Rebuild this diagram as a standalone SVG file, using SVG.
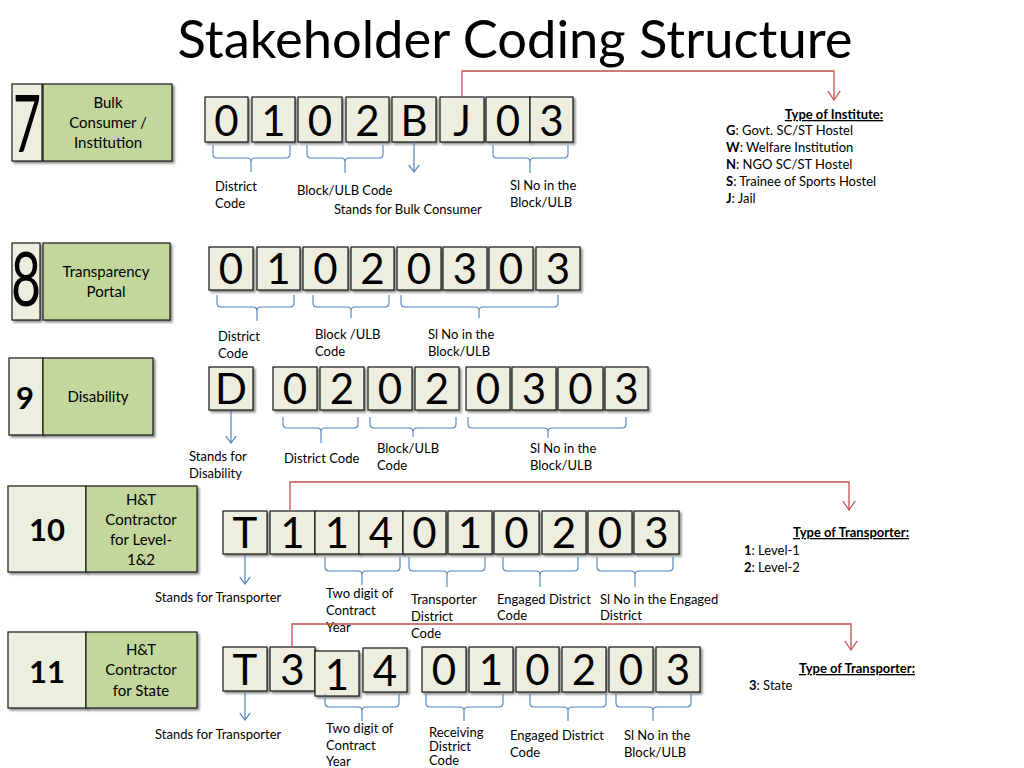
<svg xmlns="http://www.w3.org/2000/svg" width="1024" height="768" viewBox="0 0 1024 768">
<defs>
<filter id="sh" x="-20%" y="-20%" width="140%" height="140%"><feDropShadow dx="2" dy="2" stdDeviation="1.2" flood-color="#000" flood-opacity="0.45"/></filter>
<marker id="ab" viewBox="0 0 8 12" refX="7.5" refY="6" markerWidth="8" markerHeight="12" markerUnits="userSpaceOnUse" orient="auto"><path d="M0,0.5 L7.5,6 L0,11.5" fill="none" stroke="#4f81bd" stroke-width="1.2"/></marker>
<marker id="ar" viewBox="0 0 10 14" refX="9.5" refY="7" markerWidth="10" markerHeight="14" markerUnits="userSpaceOnUse" orient="auto"><path d="M0,0.5 L9.5,7 L0,13.5" fill="none" stroke="#c0504d" stroke-width="1.2"/></marker>
</defs>
<style>
text{font-family:Lato,"Open Sans","Liberation Sans",sans-serif;fill:#000}
.title{font-size:52.5px}
.num{fill:#ebf0de;stroke:#1a1a1a;stroke-width:1.2;filter:url(#sh)}
.lab{fill:#c3d69b;stroke:#1a1a1a;stroke-width:1.2;filter:url(#sh)}
.dig{fill:#eeeee0;stroke:#1a1a1a;stroke-width:1.2;filter:url(#sh)}
.d{font-size:42px;text-anchor:middle}
.lt{font-size:15px;text-anchor:middle}
.big{text-anchor:middle}
.bn{font-size:31px;font-weight:bold;text-anchor:middle}
.s{font-size:13px}
.hd{font-size:13px;font-weight:bold;text-decoration:underline;text-anchor:middle}
.br{fill:none;stroke:#4f81bd;stroke-width:1.1}
.ba{fill:none;stroke:#4f81bd;stroke-width:1.2;marker-end:url(#ab)}
.ra{fill:none;stroke:#c0504d;stroke-width:1.3;marker-end:url(#ar)}
</style>
<rect width="1024" height="768" fill="#fff"/>
<text class="title" x="515" y="58" text-anchor="middle">Stakeholder Coding Structure</text>

<g id="row7">
<rect class="num" x="12" y="84" width="30" height="77"/>
<rect class="lab" x="43" y="84" width="129" height="77"/>
<text class="big" x="27" y="152" font-size="80" textLength="28" lengthAdjust="spacingAndGlyphs">7</text>
<text class="lt" x="108" y="108">Bulk</text>
<text class="lt" x="108" y="128">Consumer /</text>
<text class="lt" x="108" y="148">Institution</text>
<rect class="dig" x="205" y="97" width="43" height="45"/>
<rect class="dig" x="252" y="97" width="43" height="45"/>
<rect class="dig" x="298" y="97" width="44" height="45"/>
<rect class="dig" x="346" y="97" width="43" height="45"/>
<rect class="dig" x="392" y="97" width="44" height="45"/>
<rect class="dig" x="440" y="97" width="44" height="45"/>
<rect class="dig" x="486" y="97" width="44" height="45"/>
<rect class="dig" x="530" y="97" width="43" height="45"/>
<text class="d" x="226.5" y="136">0</text>
<text class="d" x="273.5" y="136">1</text>
<text class="d" x="320" y="136">0</text>
<text class="d" x="367.5" y="136">2</text>
<text class="d" x="414" y="136">B</text>
<text class="d" x="462" y="136">J</text>
<text class="d" x="508" y="136">0</text>
<text class="d" x="551.5" y="136">3</text>
<text class="s" x="215" y="191">District</text>
<text class="s" x="215" y="208">Code</text>
<text class="s" x="297" y="195">Block/ULB Code</text>
<text class="s" x="334" y="214">Stands for Bulk Consumer</text>
<text class="s" x="510" y="190">Sl No in the</text>
<text class="s" x="510" y="207">Block/ULB</text>
</g>

<g id="institute-legend">
<text class="hd" x="834" y="119">Type of Institute:</text>
<text class="s" x="726" y="135"><tspan font-weight="bold">G</tspan>: Govt. SC/ST Hostel</text>
<text class="s" x="726" y="152"><tspan font-weight="bold">W</tspan>: Welfare Institution</text>
<text class="s" x="726" y="169"><tspan font-weight="bold">N</tspan>: NGO SC/ST Hostel</text>
<text class="s" x="726" y="186"><tspan font-weight="bold">S</tspan>: Trainee of Sports Hostel</text>
<text class="s" x="726" y="203"><tspan font-weight="bold">J</tspan>: Jail</text>
</g>

<g id="row8">
<rect class="num" x="12" y="243" width="28" height="77"/>
<rect class="lab" x="43" y="243" width="127" height="77"/>
<text class="big" x="26" y="306" font-size="76" textLength="30" lengthAdjust="spacingAndGlyphs">8</text>
<text class="lt" x="106" y="277">Transparency</text>
<text class="lt" x="106" y="297">Portal</text>
<rect class="dig" x="209" y="247" width="44" height="43"/>
<rect class="dig" x="257" y="247" width="43" height="43"/>
<rect class="dig" x="303" y="247" width="45" height="43"/>
<rect class="dig" x="351" y="247" width="43" height="43"/>
<rect class="dig" x="397" y="247" width="44" height="43"/>
<rect class="dig" x="443" y="247" width="44" height="43"/>
<rect class="dig" x="489" y="247" width="44" height="43"/>
<rect class="dig" x="536" y="247" width="44" height="43"/>
<text class="d" x="231" y="284">0</text>
<text class="d" x="278.5" y="284">1</text>
<text class="d" x="325.5" y="284">0</text>
<text class="d" x="372.5" y="284">2</text>
<text class="d" x="419" y="284">0</text>
<text class="d" x="465" y="284">3</text>
<text class="d" x="511" y="284">0</text>
<text class="d" x="558" y="284">3</text>
<text class="s" x="218" y="341">District</text>
<text class="s" x="218" y="358">Code</text>
<text class="s" x="315" y="339">Block /ULB</text>
<text class="s" x="315" y="356">Code</text>
<text class="s" x="428" y="339">Sl No in the</text>
<text class="s" x="428" y="356">Block/ULB</text>
</g>

<g id="row9">
<rect class="num" x="9" y="358" width="34" height="77"/>
<rect class="lab" x="43" y="358" width="110" height="77"/>
<text class="bn" x="25" y="409">9</text>
<text class="lt" x="98" y="402">Disability</text>
<rect class="dig" x="209" y="367" width="44" height="43"/>
<rect class="dig" x="273" y="367" width="44" height="43"/>
<rect class="dig" x="320" y="367" width="44" height="43"/>
<rect class="dig" x="368" y="367" width="44" height="43"/>
<rect class="dig" x="415" y="367" width="44" height="43"/>
<rect class="dig" x="466" y="367" width="44" height="43"/>
<rect class="dig" x="512" y="367" width="44" height="43"/>
<rect class="dig" x="558" y="367" width="45" height="43"/>
<rect class="dig" x="605" y="367" width="43" height="43"/>
<text class="d" x="231" y="404">D</text>
<text class="d" x="295" y="404">0</text>
<text class="d" x="342" y="404">2</text>
<text class="d" x="390" y="404">0</text>
<text class="d" x="437" y="404">2</text>
<text class="d" x="488" y="404">0</text>
<text class="d" x="534" y="404">3</text>
<text class="d" x="580.5" y="404">0</text>
<text class="d" x="626.5" y="404">3</text>
<text class="s" x="189" y="461">Stands for</text>
<text class="s" x="189" y="478">Disability</text>
<text class="s" x="284" y="463">District  Code</text>
<text class="s" x="377" y="453">Block/ULB</text>
<text class="s" x="377" y="470">Code</text>
<text class="s" x="530" y="453">Sl No in the</text>
<text class="s" x="530" y="470">Block/ULB</text>
</g>

<g id="row10">
<rect class="num" x="8" y="486" width="78" height="86"/>
<rect class="lab" x="86" y="486" width="111" height="86"/>
<text class="bn" x="47" y="541">10</text>
<text class="lt" x="141" y="505">H&amp;T</text>
<text class="lt" x="141" y="525">Contractor</text>
<text class="lt" x="141" y="545">for Level-</text>
<text class="lt" x="141" y="565">1&amp;2</text>
<rect class="dig" x="223" y="511" width="44" height="43"/>
<rect class="dig" x="270" y="511" width="45" height="43"/>
<rect class="dig" x="315" y="511" width="44" height="43"/>
<rect class="dig" x="359" y="511" width="44" height="43"/>
<rect class="dig" x="403" y="511" width="43" height="43"/>
<rect class="dig" x="448" y="511" width="44" height="43"/>
<rect class="dig" x="494" y="511" width="45" height="43"/>
<rect class="dig" x="542" y="511" width="44" height="43"/>
<rect class="dig" x="588" y="511" width="44" height="43"/>
<rect class="dig" x="634" y="511" width="45" height="43"/>
<text class="d" x="245" y="548">T</text>
<text class="d" x="292.5" y="548">1</text>
<text class="d" x="337" y="548">1</text>
<text class="d" x="381" y="548">4</text>
<text class="d" x="424.5" y="548">0</text>
<text class="d" x="470" y="548">1</text>
<text class="d" x="516.5" y="548">0</text>
<text class="d" x="564" y="548">2</text>
<text class="d" x="610" y="548">0</text>
<text class="d" x="656.5" y="548">3</text>
<text class="s" x="155" y="602">Stands for Transporter</text>
<text class="s" x="326" y="598">Two digit of</text>
<text class="s" x="326" y="615">Contract</text>
<text class="s" x="326" y="632">Year</text>
<text class="s" x="411" y="604">Transporter</text>
<text class="s" x="411" y="621">District</text>
<text class="s" x="411" y="638">Code</text>
<text class="s" x="497" y="604">Engaged District</text>
<text class="s" x="497" y="620">Code</text>
<text class="s" x="600" y="604">Sl No in the Engaged</text>
<text class="s" x="600" y="620">District</text>
</g>

<g id="transporter-legend-1">
<text class="hd" x="851" y="537">Type of Transporter:</text>
<text class="s" x="744" y="555"><tspan font-weight="bold">1</tspan>: Level-1</text>
<text class="s" x="744" y="572"><tspan font-weight="bold">2</tspan>: Level-2</text>
</g>

<g id="row11">
<rect class="num" x="8" y="632" width="78" height="76"/>
<rect class="lab" x="86" y="632" width="111" height="76"/>
<text class="bn" x="47" y="683">11</text>
<text class="lt" x="141" y="655">H&amp;T</text>
<text class="lt" x="141" y="675">Contractor</text>
<text class="lt" x="141" y="696">for State</text>
<rect class="dig" x="223" y="647" width="44" height="44"/>
<rect class="dig" x="270" y="647" width="45" height="44"/>
<rect class="dig" x="315" y="651" width="44" height="45"/>
<rect class="dig" x="363" y="648" width="44" height="44"/>
<rect class="dig" x="422" y="647" width="44" height="45"/>
<rect class="dig" x="469" y="647" width="44" height="45"/>
<rect class="dig" x="516" y="647" width="43" height="45"/>
<rect class="dig" x="562" y="647" width="44" height="45"/>
<rect class="dig" x="609" y="647" width="44" height="45"/>
<rect class="dig" x="656" y="647" width="44" height="45"/>
<text class="d" x="245" y="685">T</text>
<text class="d" x="292.5" y="685">3</text>
<text class="d" x="337" y="690">1</text>
<text class="d" x="385" y="686">4</text>
<text class="d" x="444" y="685">0</text>
<text class="d" x="491" y="685">1</text>
<text class="d" x="537.5" y="685">0</text>
<text class="d" x="584" y="685">2</text>
<text class="d" x="631" y="685">0</text>
<text class="d" x="678" y="685">3</text>
<text class="s" x="155" y="739">Stands for Transporter</text>
<text class="s" x="326" y="733">Two digit of</text>
<text class="s" x="326" y="750">Contract</text>
<text class="s" x="326" y="766">Year</text>
<text class="s" x="429" y="737" font-size="12">Receiving</text>
<text class="s" x="429" y="751" font-size="12">District</text>
<text class="s" x="429" y="765" font-size="12">Code</text>
<text class="s" x="510" y="740">Engaged District</text>
<text class="s" x="510" y="757">Code</text>
<text class="s" x="624" y="740">Sl No in the</text>
<text class="s" x="624" y="757">Block/ULB</text>
</g>

<g id="transporter-legend-2">
<text class="hd" x="857" y="673">Type of Transporter:</text>
<text class="s" x="749" y="690"><tspan font-weight="bold">3</tspan>: State</text>
</g>

<g id="connectors">
<path class="br" d="M213,145 V154 Q213,158 217,158 H247 Q251,158 251,162 V172 M251,162 Q251,158 255,158 H286 Q290,158 290,154 V145"/>
<path class="br" d="M307,145 V154 Q307,158 311,158 H341 Q345,158 345,162 V173 M345,162 Q345,158 349,158 H379 Q383,158 383,154 V145"/>
<path class="br" d="M493,145 V154 Q493,158 497,158 H526 Q530,158 530,162 V173 M530,162 Q530,158 534,158 H564 Q568,158 568,154 V145"/>
<path class="ba" d="M414,142 V172"/>
<path class="ra" d="M462,97 V71 H834 V100"/>

<path class="br" d="M217,295 V303 Q217,307 221,307 H253 Q257,307 257,311 V321 M257,311 Q257,307 261,307 H290 Q294,307 294,303 V295"/>
<path class="br" d="M313,295 V303 Q313,307 317,307 H347 Q351,307 351,311 V318 M351,311 Q351,307 355,307 H385 Q389,307 389,303 V295"/>
<path class="br" d="M401,295 V303 Q401,307 405,307 H475 Q479,307 479,311 V318 M479,311 Q479,307 483,307 H554 Q558,307 558,303 V295"/>

<path class="br" d="M283,417 V424 Q283,428 287,428 H317 Q321,428 321,432 V443 M321,432 Q321,428 325,428 H354 Q358,428 358,424 V417"/>
<path class="br" d="M370,417 V424 Q370,428 374,428 H409 Q413,428 413,432 V437 M413,432 Q413,428 417,428 H452 Q456,428 456,424 V417"/>
<path class="br" d="M468,417 V424 Q468,428 472,428 H544 Q548,428 548,432 V438 M548,432 Q548,428 552,428 H622 Q626,428 626,424 V417"/>
<path class="ba" d="M231,411 V443"/>

<path class="br" d="M325,557 V567 Q325,571 329,571 H358 Q362,571 362,575 V585 M362,575 Q362,571 366,571 H396 Q400,571 400,567 V557"/>
<path class="br" d="M409,557 V567 Q409,571 413,571 H443 Q447,571 447,575 V587 M447,575 Q447,571 451,571 H481 Q485,571 485,567 V557"/>
<path class="br" d="M503,557 V567 Q503,571 507,571 H536 Q540,571 540,575 V587 M540,575 Q540,571 544,571 H574 Q578,571 578,567 V557"/>
<path class="br" d="M597,557 V567 Q597,571 601,571 H631 Q635,571 635,575 V587 M635,575 Q635,571 639,571 H669 Q673,571 673,567 V557"/>
<path class="ba" d="M245,555 V584"/>
<path class="ra" d="M290,511 V482 H849 V510"/>

<path class="br" d="M325,694 V703 Q325,707 329,707 H358 Q362,707 362,711 V721 M362,711 Q362,707 366,707 H395 Q399,707 399,703 V694"/>
<path class="br" d="M426,694 V703 Q426,707 430,707 H460 Q464,707 464,711 V721 M464,711 Q464,707 468,707 H499 Q503,707 503,703 V694"/>
<path class="br" d="M530,694 V703 Q530,707 534,707 H564 Q568,707 568,711 V721 M568,711 Q568,707 572,707 H602 Q606,707 606,703 V694"/>
<path class="br" d="M616,694 V703 Q616,707 620,707 H649 Q653,707 653,711 V721 M653,711 Q653,707 657,707 H687 Q691,707 691,703 V694"/>
<path class="ba" d="M245,692 V720"/>
<path class="ra" d="M292,647 V624 H851 V650"/>
</g>
</svg>
